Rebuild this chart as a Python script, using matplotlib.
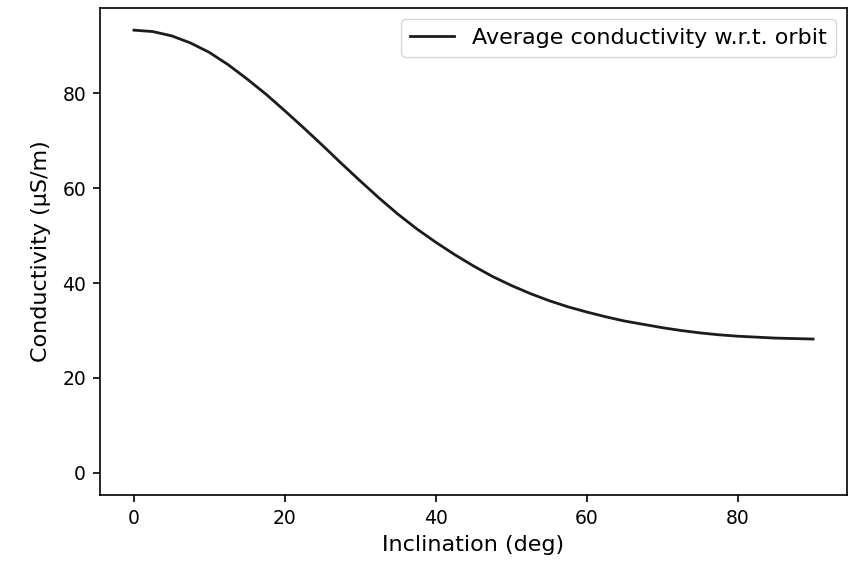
import numpy as np
import matplotlib.pyplot as plt

# values (every 2.5 deg)
inclination = [0, 2.5, 5, 7.5, 10, 12.5, 15, 17.5, 20, 22.5, 25, 27.5, 30, 32.5,
               35, 37.5, 40, 42.5, 45, 47.5, 50, 52.5, 55, 57.5, 60, 62.5, 65,
               67.5, 70, 72.5, 75, 77.5, 80, 82.5, 85, 87.5, 90]
conductivity = [93.3, 93.0, 92.1, 90.6, 88.6, 86.0, 83.0, 79.8, 76.3, 72.7, 69.0,
                65.2, 61.5, 57.9, 54.5, 51.4, 48.6, 46.0, 43.6, 41.4, 39.5, 37.8,
                36.3, 35.0, 33.9, 32.9, 32.0, 31.3, 30.6, 30.0, 29.5, 29.1, 28.8,
                28.6, 28.4, 28.3, 28.2]

plt.rcParams['font.size'] = 16
plt.rcParams['axes.linewidth'] = 1.2
plt.rcParams['xtick.major.size'] = 5
plt.rcParams['ytick.major.size'] = 5
plt.rcParams['xtick.major.width'] = 1.2
plt.rcParams['ytick.major.width'] = 1.2
plt.rcParams['xtick.major.pad'] = 5
plt.rcParams['ytick.major.pad'] = 5
plt.rcParams['xtick.labelsize'] = 13.5
plt.rcParams['ytick.labelsize'] = 13.5

fig = plt.figure(figsize=(8.5, 5.66), dpi=100)
ax = fig.add_axes([100 / 850, 1 - 495 / 566, 747 / 850, 487 / 566])

ax.plot(inclination, conductivity, color="#1c1c1c", linewidth=2.0,
        label="Average conductivity w.r.t. orbit")

ax.set_xlim(-4.5, 94.5)
ax.set_ylim(-4.67, 97.97)
ax.set_xticks([0, 20, 40, 60, 80])
ax.set_yticks([0, 20, 40, 60, 80])
ax.set_xlabel("Inclination (deg)", labelpad=5)
ax.set_ylabel("Conductivity (µS/m)", labelpad=8)
ax.legend(loc="upper right")

fig.savefig("out.png", dpi=100)
